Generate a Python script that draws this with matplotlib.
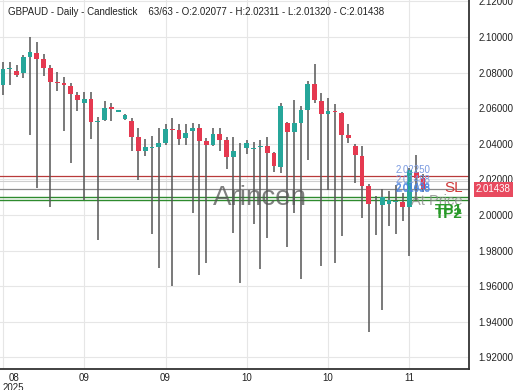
import numpy as np
import matplotlib
matplotlib.use("Agg")
import matplotlib.pyplot as plt

plt.rcParams['font.family'] = ['Liberation Sans', 'DejaVu Sans']

# daily GBPAUD candles
opens = [2.0730, 2.0820, 2.0809, 2.0796, 2.0889, 2.0912, 2.0875, 2.0824, 2.0749, 2.0744,
         2.0725, 2.0674, 2.0631, 2.0651, 2.0523, 2.0534, 2.0605, 2.0580, 2.0538, 2.0530,
         2.0440, 2.0361, 2.0378, 2.0384, 2.0406, 2.0482, 2.0478, 2.0431, 2.0472, 2.0491,
         2.0416, 2.0393, 2.0455, 2.0421, 2.0328, 2.0369, 2.0375, 2.0373, 2.0382, 2.0389,
         2.0347, 2.0268, 2.0515, 2.0468, 2.0519, 2.0590, 2.0736, 2.0642, 2.0566, 2.0582,
         2.0571, 2.0449, 2.0388, 2.0333, 2.0163, 2.0064, 2.0056, 2.0062, 2.0073, 2.0071,
         2.0047, 2.0240, 2.02077]
highs = [2.0861, 2.0858, 2.0843, 2.0899, 2.0998, 2.0974, 2.0904, 2.0843, 2.0801, 2.0777,
         2.0744, 2.0693, 2.0693, 2.0693, 2.0552, 2.0642, 2.0627, 2.0592, 2.0565, 2.0543,
         2.0487, 2.0425, 2.0444, 2.0487, 2.0511, 2.0543, 2.0511, 2.0511, 2.0519, 2.0511,
         2.0431, 2.0487, 2.0487, 2.0436, 2.0436, 2.0406, 2.0421, 2.0412, 2.0421, 2.0440,
         2.0356, 2.0627, 2.0524, 2.0646, 2.0612, 2.0755, 2.0848, 2.0687, 2.0659, 2.0624,
         2.0580, 2.0511, 2.0399, 2.0388, 2.0174, 2.0107, 2.0144, 2.0137, 2.0169, 2.0122,
         2.0262, 2.0337, 2.02311]
lows = [2.0674, 2.0730, 2.0777, 2.0768, 2.0449, 2.0150, 2.0781, 2.0047, 2.0699, 2.0474,
        2.0290, 2.0586, 2.0084, 2.0425, 1.9860, 2.0530, 2.0530, 2.0578, 2.0535, 2.0361,
        2.0197, 2.0331, 1.9893, 1.9700, 2.0393, 1.9601, 2.0393, 2.0393, 2.0013, 1.9663,
        1.9729, 2.0388, 2.0361, 2.0257, 1.9901, 1.9616, 2.0343, 1.9949, 1.9695, 1.9869,
        2.0243, 2.0238, 1.9822, 2.0009, 1.9639, 2.0309, 2.0631, 1.9713, 2.0140, 1.9729,
        1.9882, 2.0403, 2.0182, 1.9981, 1.9345, 1.9888, 1.9466, 1.9940, 1.9893, 1.9968,
        1.9770, 2.0084, 2.01320]
closes = [2.0819, 2.0826, 2.0787, 2.0886, 2.0914, 2.0875, 2.0824, 2.0749, 2.0740, 2.0730,
          2.0678, 2.0646, 2.0653, 2.0524, 2.0530, 2.0603, 2.0598, 2.0590, 2.0562, 2.0440,
          2.0361, 2.0380, 2.0384, 2.0403, 2.0483, 2.0478, 2.0425, 2.0462, 2.0491, 2.0418,
          2.0393, 2.0455, 2.0421, 2.0328, 2.0361, 2.0373, 2.0403, 2.0377, 2.0386, 2.0347,
          2.0275, 2.0612, 2.0468, 2.0515, 2.0590, 2.0736, 2.0646, 2.0567, 2.0584, 2.0578,
          2.0449, 2.0431, 2.0337, 2.0163, 2.0062, 2.0060, 2.0099, 2.0084, 2.0077, 2.0047,
          2.0253, 2.0208, 2.01438]

tick_pos = [0, 12, 24, 36, 48, 60]
tick_labels = ['08\n2025', '09', '09', '10', '10', '11']
yticks = [1.92, 1.94, 1.96, 1.98, 2.00, 2.02, 2.04, 2.06, 2.08, 2.10, 2.12]

# trade levels
sl_level = 2.0219
faint_level = 2.0193
last_price = 2.01438
tp1_level = 2.0103
tp2_level = 2.0083

UP = '#26a69a'
DOWN = '#e53950'

o = np.array(opens); h = np.array(highs); l = np.array(lows); c = np.array(closes)
x = np.arange(len(o))
up = c >= o

fig = plt.figure(figsize=(5.2, 3.9), dpi=100)
ax = fig.add_axes([0, 21 / 390, 469 / 520, 369 / 390])

ax.vlines(x, l, h, color='#555555', linewidth=1.1, zorder=2)
body_lo = np.minimum(o, c)
body_h = np.maximum(np.abs(c - o), 0.0004)
ax.bar(x, body_h, bottom=body_lo, width=0.7,
       color=np.where(up, UP, DOWN), zorder=3, linewidth=0)

ax.set_xlim(-0.44, 68.8)
ax.set_ylim(1.9135, 2.1208)

# level lines
ax.axhline(sl_level, color='#b83a3a', linewidth=0.9, zorder=1)
ax.axhline(faint_level, color='#cfcfcf', linewidth=0.8, zorder=1)
ax.axhline(last_price, color='#8a8a8a', linewidth=0.9, zorder=1)
ax.axhline(tp1_level, color='#2e8b2e', linewidth=1.0, zorder=1)
ax.axhline(tp2_level, color='#2e8b2e', linewidth=1.0, zorder=1)

ax.annotate('SL', (67.9, sl_level), xytext=(0, -3.5), textcoords='offset points',
            ha='right', va='top', color='#d03a3a', fontsize=11)
ax.annotate('At Price', (67.9, last_price), xytext=(0, -3.5), textcoords='offset points',
            ha='right', va='top', color='#8a8a8a', fontsize=10.5, alpha=0.8)
ax.annotate('TP1', (67.9, tp1_level), xytext=(0, -4.5), textcoords='offset points',
            ha='right', va='top', color='#2a9a2a', fontsize=11, fontweight='bold')
ax.annotate('TP2', (67.9, tp2_level), xytext=(0, -4.5), textcoords='offset points',
            ha='right', va='top', color='#2a9a2a', fontsize=11, fontweight='bold')

# small value labels near the last candles
ax.text(60.6, 2.0253, '2.02250', ha='center', va='center', fontsize=7, color='#7a9ae0')
ax.text(60.6, 2.0195, '2.01488', ha='center', va='center', fontsize=7, color='#7a9ae0')
ax.text(60.6, 2.0152, '2.01438', ha='center', va='center', fontsize=7, color='#4a84e0')
ax.text(60.6, 2.0144, '2.01038', ha='center', va='center', fontsize=7, color='#4a84e0')

# watermark
ax.text(0.554, 0.463, 'Arincen', transform=ax.transAxes, ha='center', va='center',
        fontsize=20, color='#555555', alpha=0.75, zorder=4)

# right price tag
ax.annotate(f'{last_price:.5f}', (1.0, last_price), xycoords=('axes fraction', 'data'),
            xytext=(5, 0), textcoords='offset points', ha='left', va='center',
            fontsize=7, color='white', annotation_clip=False,
            bbox=dict(boxstyle='square,pad=0.25', fc='#e84a5f', ec='none'))

ax.set_yticks(yticks)
ax.set_yticklabels([f'{v:.5f}' for v in yticks])
ax.yaxis.tick_right()
ax.set_xticks(tick_pos)
ax.set_xticklabels(tick_labels)
ax.get_xticklabels()[0].set_horizontalalignment('left')
ax.get_xticklabels()[0].set_multialignment('center')
ax.tick_params(axis='y', length=0, pad=7, labelsize=7, colors='#222222')
ax.tick_params(axis='x', length=0, pad=3, labelsize=7, colors='#222222')
for lab in ax.get_xticklabels():
    lab.set_linespacing(0.95)

ax.grid(True, color='#e6e6e6', linewidth=0.8, zorder=0)
ax.set_axisbelow(True)
for s in ['top', 'left']:
    ax.spines[s].set_visible(False)
for s in ['right', 'bottom']:
    ax.spines[s].set_color('#333333')
    ax.spines[s].set_linewidth(1.3)

fig.text(8 / 520, 1 - 12 / 390,
         'GBPAUD - Daily - Candlestick    63/63 - O:2.02077 - H:2.02311 - L:2.01320 - C:2.01438',
         ha='left', va='center', fontsize=7, color='#222222')

fig.savefig('out.png', dpi=100, facecolor='white')
